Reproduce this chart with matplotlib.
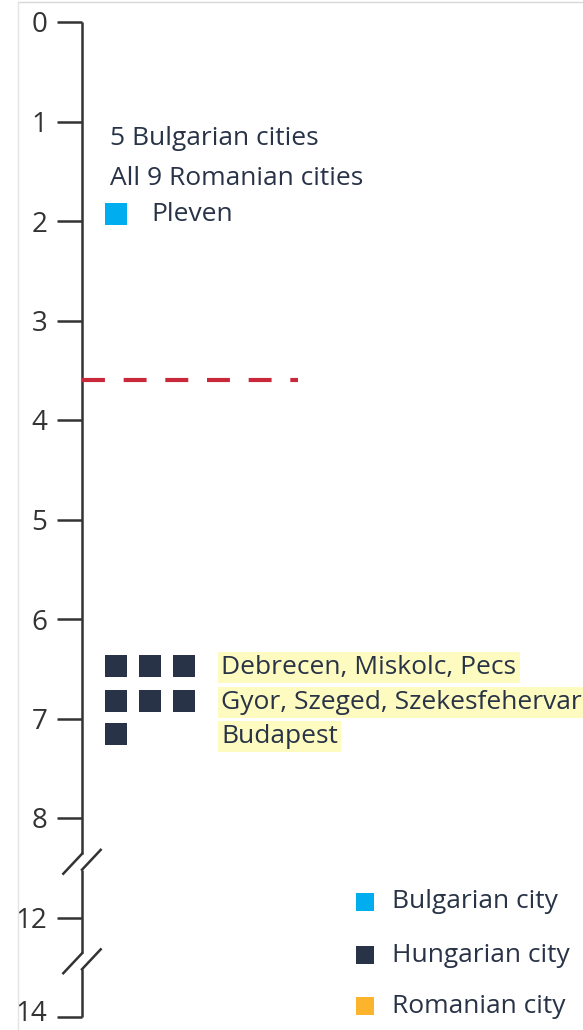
import numpy as np
import matplotlib
matplotlib.use("Agg")
import matplotlib.pyplot as plt
import matplotlib.transforms as mtransforms
from matplotlib.lines import Line2D

plt.rcParams['font.family'] = ['Open Sans', 'DejaVu Sans']

# ---- data ----
tick_values = [0, 1, 2, 3, 4, 5, 6, 7, 8, 12, 14]
tick_labels = ['0', '1', '2', '3', '4', '5', '6', '7', '8', '12', '14']
threshold = 3.6

bulgarian_note = ["5 Bulgarian cities", "All 9 Romanian cities"]
bulgarian_note_y = [1.17, 1.57]
bulgarian_cities = ["Pleven"]
bulgarian_values = [1.93]

hungarian_rows = ["Debrecen, Miskolc, Pecs", "Gyor, Szeged, Szekesfehervar", "Budapest"]
hungarian_row_values = [6.47, 6.82, 7.16]
hungarian_row_counts = [3, 3, 1]

legend_labels = ["Bulgarian city", "Hungarian city", "Romanian city"]
colors = {"Bulgarian city": "#00aeef", "Hungarian city": "#283347", "Romanian city": "#fbb42c"}

TEXT = "#283347"
AXIS = "#333333"
FS = 19


def pos(v):
    # broken axis: 0..8 linear, then 12 and 14 squeezed in
    v = np.asarray(v, dtype=float)
    return np.where(v <= 8, v, np.where(v <= 12, 8 + (v - 8) / 4, 9 + (v - 12) / 2))


fig = plt.figure(figsize=(5.83, 10.30), dpi=100)
W, H = 583, 1030
ax = fig.add_axes([82 / W, 0, 1 - 82 / W, 1])
ax.set_xlim(0, (W - 82) / 34)
ax.set_ylim((H - 22) / 99.5, -22 / 99.5)
for s in ax.spines.values():
    s.set_visible(False)
ax.set_xticks([])
ax.set_yticks(pos(tick_values))
ax.set_yticklabels(tick_labels, fontsize=20, color=AXIS)
ax.tick_params(axis='y', length=18, width=1.8, color=AXIS, pad=7)
# keep the bottom label inside the canvas
last = ax.get_yticklabels()[-1]
last.set_transform(last.get_transform() +
                   mtransforms.ScaledTranslation(0, 5 / 72, fig.dpi_scale_trans))

# axis line with break marks
lw = 1.8
segs = [(0, 8.36), (8.52, 9.36), (9.52, 10.0)]
for a, b in segs:
    ax.plot([0, 0], [a, b], color=AXIS, lw=lw, solid_capstyle='butt', clip_on=False)
for a, b in zip([s[1] for s in segs[:-1]], [s[0] for s in segs[1:]]):
    ax.plot([0, -0.55], [a, a + 0.2], color=AXIS, lw=lw, clip_on=False)
    ax.plot([0, 0.55], [b, b - 0.2], color=AXIS, lw=lw, clip_on=False)

# threshold
ax.plot([0, 6.35], [threshold, threshold], color="#c8283a", lw=3, dashes=(5.5, 4.5))

# Bulgarian
for t, y in zip(bulgarian_note, bulgarian_note_y):
    ax.text(0.82, y, t, fontsize=FS, color=TEXT, va='center', ha='left')
ax.scatter([1] * len(bulgarian_values), pos(bulgarian_values), marker='s', s=260,
           color=colors["Bulgarian city"], linewidths=0)
ax.text(2.05, bulgarian_values[0], bulgarian_cities[0], fontsize=FS, color=TEXT, va='center')

# Hungarian
for label, y, n in zip(hungarian_rows, hungarian_row_values, hungarian_row_counts):
    ax.scatter(1 + np.arange(n), [y] * n, marker='s', s=260,
               color=colors["Hungarian city"], linewidths=0)
    ax.text(4.1, y + 0.02, label, fontsize=FS, color=TEXT, va='center', ha='left',
            bbox=dict(boxstyle='square,pad=0.12', fc='#fdfbbf', ec='none'))

# legend
legend_y = [8.84, 9.38, 9.89]
for lab, y in zip(legend_labels, legend_y):
    ax.scatter([8.32], [y], marker='s', s=150, color=colors[lab], linewidths=0)
    ax.text(9.12, y, lab, fontsize=FS, color=TEXT, va='center', ha='left')

# frame remnants
fig.add_artist(Line2D([18 / W, 1], [1 - 2 / H, 1 - 2 / H], color='#d8d8d8', lw=1))
fig.add_artist(Line2D([18 / W, 18 / W], [0, 1 - 2 / H], color='#e4e4e4', lw=1))

fig.savefig("out.png", dpi=100)
